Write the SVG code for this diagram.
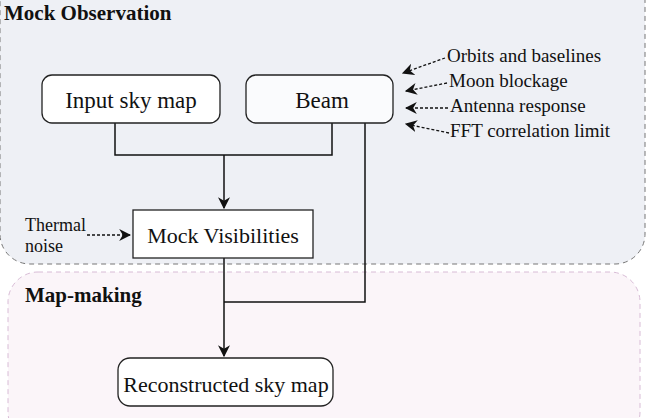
<svg xmlns="http://www.w3.org/2000/svg" width="646" height="418" viewBox="0 0 646 418" font-family="Liberation Serif, Times New Roman, DejaVu Serif, serif">
<style>
text{font-family:"Liberation Serif","Times New Roman","DejaVu Serif",serif;fill:#111}
.box{stroke:#222;stroke-width:1.3}
.ln{stroke:#111;stroke-width:1.5;fill:none}
.dt{stroke:#111;stroke-width:1.3;stroke-dasharray:3,2;fill:none}
</style>
<defs>
<marker id="ah2" viewBox="0 0 10 10" refX="9" refY="5" markerWidth="12" markerHeight="12" orient="auto" markerUnits="userSpaceOnUse"><path d="M0,0 L10,5 L0,10 L3,5 z" fill="#111"/></marker>
</defs>
<g id="mock-observation">
<rect x="0" y="-30" width="645" height="294" rx="30" fill="#eef0f5" stroke="#777" stroke-dasharray="5,4"/>
<text x="4" y="20" font-size="21" font-weight="bold">Mock Observation</text>
</g>
<g id="map-making">
<rect x="8" y="272" width="632" height="170" rx="30" fill="#fbf5f9" stroke="#d8bcd6" stroke-dasharray="5,4"/>
<text x="25" y="302" font-size="21" font-weight="bold">Map-making</text>
</g>
<g id="connectors">
<path class="ln" d="M115,123 V155 H332 V123"/>
<path class="ln" d="M224,155 V208" marker-end="url(#ah2)"/>
<path class="ln" d="M365,123 V302 H224"/>
<path class="ln" d="M224,258 V356" marker-end="url(#ah2)"/>
<path class="dt" d="M87,235 H130" marker-end="url(#ah2)"/>
<path class="dt" d="M445,58 L403,73" marker-end="url(#ah2)"/>
<path class="dt" d="M447,83 L406,91" marker-end="url(#ah2)"/>
<path class="dt" d="M448,108 L406,108" marker-end="url(#ah2)"/>
<path class="dt" d="M449,133 L406,124" marker-end="url(#ah2)"/>
</g>
<g id="input-sky-map"><rect class="box" x="42" y="75" width="178" height="48" rx="10" fill="#fff"/><text x="131" y="108" font-size="23" text-anchor="middle">Input sky map</text></g>
<g id="beam"><rect class="box" x="246" y="75" width="147" height="48" rx="10" fill="#fafbfd"/><text x="322" y="108" font-size="23" text-anchor="middle">Beam</text></g>
<g id="mock-visibilities"><rect class="box" x="133" y="210" width="180" height="48" fill="#fff"/><text x="223" y="243" font-size="22" text-anchor="middle">Mock Visibilities</text></g>
<g id="reconstructed"><rect class="box" x="118" y="358" width="215" height="48" rx="12" fill="#fff"/><text x="226" y="392" font-size="22" text-anchor="middle">Reconstructed sky map</text></g>
<g id="thermal-noise"><text x="25" y="231" font-size="18">Thermal</text><text x="25" y="252" font-size="18">noise</text></g>
<g id="factors">
<text x="447" y="62" font-size="19">Orbits and baselines</text>
<text x="449" y="87" font-size="19">Moon blockage</text>
<text x="450" y="112" font-size="19">Antenna response</text>
<text x="450" y="137" font-size="19">FFT correlation limit</text>
</g>
</svg>
